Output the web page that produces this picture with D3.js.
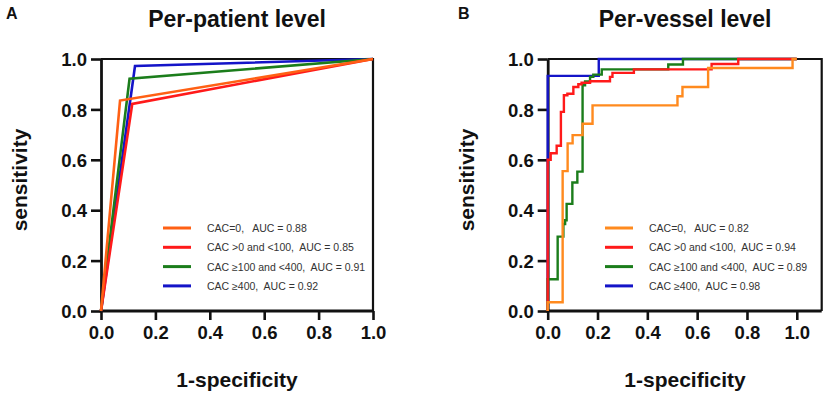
<!DOCTYPE html>
<html>
<head>
<meta charset="utf-8">
<script src="https://cdn.jsdelivr.net/npm/d3@7"></script>
<style>
  body { margin: 0; background: #fff; }
  svg { font-family: "Liberation Sans", Arial, sans-serif; }
  .tick text { font-weight: bold; font-size: 18.5px; fill: #111; }
  .legend text { font-size: 10.5px; fill: #333; white-space: pre; }
</style>
</head>
<body>
<div id="chart"></div>
<script>
// tick values shared by both panels
const tickValues = [0, 0.2, 0.4, 0.6, 0.8, 1.0]

// legend labels
const labelsA = ["CAC=0,   AUC = 0.88", "CAC >0 and <100,  AUC = 0.85", "CAC \u2265100 and <400,  AUC = 0.91", "CAC \u2265400,  AUC = 0.92"]
const labelsB = ["CAC=0,   AUC = 0.82", "CAC >0 and <100,  AUC = 0.94", "CAC \u2265100 and <400,  AUC = 0.89", "CAC \u2265400,  AUC = 0.98"]

// panel A: per-patient ROC points [1-specificity, sensitivity]
const patientCac0 = [[0, 0], [0.07, 0.835], [1, 1]]
const patientCacLow = [[0, 0], [0.115, 0.822], [1, 1]]
const patientCacMid = [[0, 0], [0.105, 0.922], [1, 1]]
const patientCacHigh = [[0, 0], [0.125, 0.972], [1, 1]]

// panel B: per-vessel ROC step points [1-specificity, sensitivity]
const vesselCac0 = [[0, 0], [0, 0.035], [0.06, 0.555], [0.08, 0.665], [0.1, 0.698], [0.14, 0.743],
  [0.18, 0.816], [0.521, 0.852], [0.541, 0.889], [0.644, 0.964], [0.983, 1], [1, 1]]
const vesselCacLow = [[0, 0], [0, 0.60], [0.012, 0.626], [0.036, 0.656], [0.053, 0.79], [0.065, 0.856],
  [0.079, 0.862], [0.103, 0.889], [0.123, 0.9], [0.136, 0.906], [0.17, 0.912], [0.25, 0.929],
  [0.26, 0.945], [0.346, 0.959], [0.658, 0.98], [0.765, 1], [1, 1]]
const vesselCacMid = [[0, 0], [0, 0.126], [0.04, 0.295], [0.063, 0.345], [0.07, 0.36], [0.076, 0.425],
  [0.099, 0.51], [0.119, 0.553], [0.14, 0.896], [0.15, 0.911], [0.17, 0.929], [0.183, 0.938],
  [0.217, 0.959], [0.484, 0.978], [0.543, 1], [1, 1]]
const vesselCacHigh = [[0, 0], [0, 0.933], [0.205, 1], [1, 1]]

const svg = d3.select("#chart").append("svg")
    .attr("width", 829)
    .attr("height", 396)

function drawPanel(opt) {
    let g = svg.append("g")

    let x = d3.scaleLinear().domain([0, opt.xMax]).range([opt.left, opt.right])
    let y = d3.scaleLinear().domain([0, 1]).range([311, 59])

    // frame (top + right)
    g.append("path")
        .attr("d", `M${x(0)},${y(1)}H${x(opt.xMax)}V${y(0)}`)
        .attr("fill", "none")
        .attr("stroke", "#111")
        .attr("stroke-width", 2.2)

    // axes (drawn under the curves)
    let xAxis = d3.axisBottom(x).tickValues(tickValues).tickFormat(d3.format(".1f"))
        .tickSizeInner(9).tickSizeOuter(0).tickPadding(6)
    let yAxis = d3.axisLeft(y).tickValues(tickValues).tickFormat(d3.format(".1f"))
        .tickSizeInner(10).tickSizeOuter(0).tickPadding(4)

    let gx = g.append("g")
        .attr("transform", `translate(0, ${y(0)})`)
        .call(xAxis)
    let gy = g.append("g")
        .attr("transform", `translate(${x(0)}, 0)`)
        .call(yAxis)

    ;[gx, gy].forEach(a => {
        a.select(".domain").attr("stroke", "#111").attr("stroke-width", 2.8)
        a.selectAll(".tick line").attr("stroke", "#111").attr("stroke-width", 2.6)
        a.selectAll(".tick text").attr("font-family", null).attr("font-size", null)
    })
    gx.select(".domain").attr("d", `M${x(0) - 1.4},0H${x(opt.xMax)}`)
    gy.selectAll(".tick text").attr("dy", "0.36em")

    // curves, drawn in given order
    let line = d3.line()
        .x(d => x(d[0]))
        .y(d => y(d[1]))
        .curve(opt.curve)

    opt.series.forEach(s => {
        g.append("path")
            .datum(s.data)
            .attr("fill", "none")
            .attr("stroke", s.color)
            .attr("stroke-width", opt.lineWidth)
            .attr("stroke-linejoin", "miter")
            .attr("d", line)
    })

    // legend
    let lg = g.append("g").attr("class", "legend")
    opt.series.slice().sort((a, b) => a.order - b.order).forEach((s, i) => {
        let ly = 228 + i * 19.3
        lg.append("line")
            .attr("x1", opt.legendX).attr("x2", opt.legendX + 28)
            .attr("y1", ly).attr("y2", ly)
            .attr("stroke", s.color)
            .attr("stroke-width", 3)
        lg.append("text")
            .attr("x", opt.legendX + 44)
            .attr("y", ly + 4)
            .attr("xml:space", "preserve")
            .text(opt.labels[s.order])
    })

    // titles and labels
    g.append("text")
        .attr("x", opt.titleX).attr("y", 27)
        .attr("text-anchor", "middle")
        .attr("font-weight", "bold")
        .attr("font-size", 23)
        .attr("fill", "#111")
        .text(opt.title)
    g.append("text")
        .attr("x", opt.letterX).attr("y", 19)
        .attr("font-weight", "bold")
        .attr("font-size", 16)
        .attr("fill", "#111")
        .text(opt.letter)
    g.append("text")
        .attr("transform", `translate(${opt.yLabelX}, 180) rotate(-90)`)
        .attr("text-anchor", "middle")
        .attr("font-weight", "bold")
        .attr("font-size", 21)
        .attr("fill", "#111")
        .text("sensitivity")
    g.append("text")
        .attr("x", opt.titleX).attr("y", 387)
        .attr("text-anchor", "middle")
        .attr("font-weight", "bold")
        .attr("font-size", 21)
        .attr("fill", "#111")
        .text("1-specificity")
}

drawPanel({
    left: 101, right: 373, xMax: 1,
    curve: d3.curveLinear, lineWidth: 2.6,
    title: "Per-patient level", titleX: 237, letter: "A", letterX: 6, yLabelX: 27,
    legendX: 163, labels: labelsA,
    series: [
        {data: patientCacHigh, color: "#1414c8", order: 3},
        {data: patientCacMid, color: "#1b7d1b", order: 2},
        {data: patientCacLow, color: "#ff1a1a", order: 1},
        {data: patientCac0, color: "#ff6014", order: 0}
    ]
})

drawPanel({
    left: 547.7, right: 821.7, xMax: 1.1,
    curve: d3.curveStepAfter, lineWidth: 2.4,
    title: "Per-vessel level", titleX: 685, letter: "B", letterX: 458, yLabelX: 474,
    legendX: 605, labels: labelsB,
    series: [
        {data: vesselCacHigh, color: "#1414c8", order: 3},
        {data: vesselCacMid, color: "#1b7d1b", order: 2},
        {data: vesselCacLow, color: "#ff1a1a", order: 1},
        {data: vesselCac0, color: "#ff8a1e", order: 0}
    ]
})
</script>
</body>
</html>
